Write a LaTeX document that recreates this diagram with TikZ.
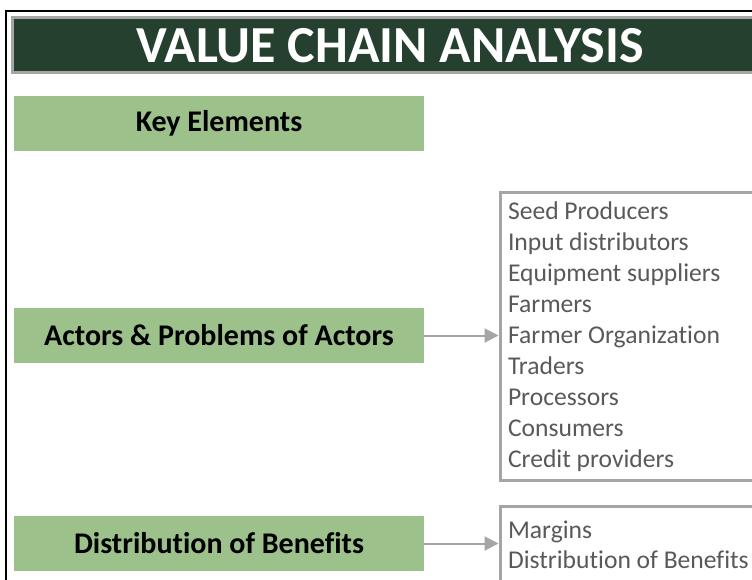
\documentclass[tikz,border=0pt]{standalone}
\usepackage{fontspec}
\setmainfont{Carlito}[Ligatures=NoCommon]
\usetikzlibrary{arrows.meta,positioning}
\definecolor{chaingreen}{HTML}{25402F}
\definecolor{keygreen}{HTML}{9DC18A}
\definecolor{framegray}{HTML}{A5A5A5}
\definecolor{listgray}{HTML}{595959}

\begin{document}
\begin{tikzpicture}[x=1pt,y=-1pt,
  keybox/.style={fill=keygreen,minimum width=410pt,minimum height=55pt,inner sep=0pt,
    font=\bfseries\fontsize{30}{34}\selectfont},
  listbox/.style={draw=framegray,line width=3pt,anchor=north west,align=flush left,
    text width=300pt,inner xsep=8pt,inner ysep=9pt,text=listgray,
    font=\fontsize{25.6}{31}\selectfont},
  link/.style={-{Triangle[length=14pt,width=14pt]},framegray,line width=2pt}]
\useasboundingbox (0,0) rectangle (752,580);
\clip (0,0) rectangle (752,580);
% page frame
\draw[line width=2pt] (6,600) -- (6,11) -- (770,11);
% heading
\node[draw=framegray,line width=3pt,fill=chaingreen,anchor=north west,
  minimum width=756pt,minimum height=55pt,text=white,
  font=\bfseries\fontsize{52}{56}\selectfont] (title) at (10.5,16.5) {VALUE CHAIN ANALYSIS};
% left column
\node[keybox] (key) at (219,123.5) {Key Elements};
\node[keybox] (actors) at (219,335.5) {Actors \& Problems of Actors};
\node[keybox] (dist) at (219,543.5) {Distribution of Benefits};
% right column
\node[listbox] (actorlist) at (498.5,191.5) {Seed Producers\\Input distributors\\Equipment suppliers\\Farmers\\Farmer Organization\\Traders\\Processors\\Consumers\\Credit providers};
\node[listbox,inner ysep=7pt] (benefits) at (498.5,504.5)
  {\rule{0pt}{25pt}Margins\\[-1pt]Distribution of Benefits\rule[-40pt]{0pt}{0pt}};
\draw[link] (actors.east) -- (actors.east -| actorlist.west);
\draw[link] (dist.east) -- (dist.east -| benefits.west);
\end{tikzpicture}
\end{document}
